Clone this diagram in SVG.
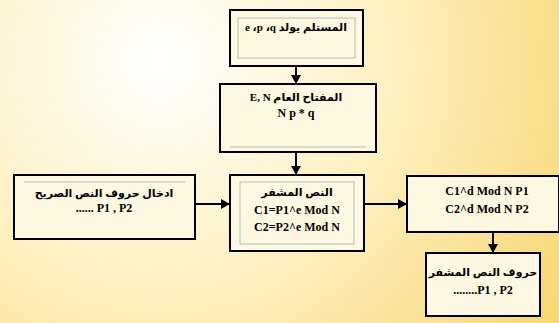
<svg xmlns="http://www.w3.org/2000/svg" width="559" height="323" viewBox="0 0 559 323">
<defs>
<radialGradient id="bg" cx="160" cy="60" r="520" gradientUnits="userSpaceOnUse">
<stop offset="0" stop-color="#ffffff"/>
<stop offset="0.45" stop-color="#fdf0c0"/>
<stop offset="1" stop-color="#f6d164"/>
</radialGradient>
<marker id="ah" markerWidth="10" markerHeight="10" refX="8" refY="5" orient="auto" markerUnits="userSpaceOnUse">
<path d="M0,0 L9,5 L0,10 Z" fill="#000"/>
</marker>
<style>
.box{fill:#fdf8e2;stroke:#000;stroke-width:2}
.inner{fill:none;stroke:#b8b8b0;stroke-width:1}
.t{font-family:"Liberation Serif","DejaVu Sans",serif;font-size:12px;font-weight:bold;fill:#000;text-anchor:middle}
.a{font-size:11px}
.ar{direction:rtl;unicode-bidi:embed}
.c{stroke:#000;stroke-width:2;fill:none;marker-end:url(#ah)}
</style>
</defs>
<rect width="559" height="323" fill="url(#bg)"/>
<g id="n1">
<rect class="box" x="230" y="10" width="133" height="56"/>
<rect class="inner" x="238" y="18" width="117" height="40"/>
<text class="t a" x="296" y="31">e ،p ،q المستلم يولد</text>
</g>
<g id="n2">
<rect class="box" x="220" y="84" width="156" height="68"/>
<line class="inner" x1="230" y1="147" x2="366" y2="147"/>
<text class="t a ar" x="296" y="101">المفتاح العام E, N</text>
<text class="t" x="296" y="117">N  p * q</text>
</g>
<g id="n3">
<rect class="box" x="14" y="175" width="181" height="64"/>
<line class="inner" x1="24" y1="182" x2="185" y2="182"/>
<text class="t a ar" x="104" y="197">ادخال حروف النص الصريح</text>
<text class="t ar" x="104" y="212">P1 , P2 ......</text>
</g>
<g id="n4">
<rect class="box" x="230" y="175" width="134" height="76"/>
<rect class="inner" x="240" y="182" width="114" height="62"/>
<text class="t a ar" x="297" y="196">النص المشفر</text>
<text class="t" x="297" y="214">C1=P1^e Mod N</text>
<text class="t" x="297" y="231">C2=P2^e Mod N</text>
</g>
<g id="n5">
<rect class="box" x="407" y="176" width="152" height="56"/>
<text class="t" x="487" y="195">C1^d Mod N  P1</text>
<text class="t" x="487" y="213">C2^d Mod N  P2</text>
</g>
<g id="n6">
<rect class="box" x="426" y="253" width="114" height="63"/>
<text class="t a ar" x="483" y="276">حروف النص المشفر</text>
<text class="t ar" x="483" y="294">P1 , P2........</text>
</g>
<g id="connectors">
<line class="c" x1="296" y1="66" x2="296" y2="83"/>
<line class="c" x1="296" y1="152" x2="296" y2="174"/>
<line class="c" x1="195" y1="204" x2="229" y2="204"/>
<line class="c" x1="364" y1="204" x2="406" y2="204"/>
<line class="c" x1="493" y1="232" x2="493" y2="252"/>
</g>
</svg>
